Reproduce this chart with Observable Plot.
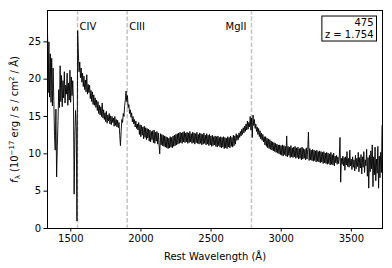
<!DOCTYPE html>
<html>
<head>
<meta charset="utf-8">
<script src="https://cdn.jsdelivr.net/npm/d3@7"></script>
<script src="https://cdn.jsdelivr.net/npm/@observablehq/plot@0.6"></script>
<style>
html,body{margin:0;padding:0;background:#fff;}
</style>
</head>
<body>
<div id="chart"></div>
<script>
// Spectrum: rest wavelength start/step (Å) and flux values (1e-17 erg/s/cm^2/Å)
const waveStart = 1334;
const waveStep = 5;
const flux = [
  26.8, 18.2, 25.0, 17.6, 23.4, 16.9, 22.8, 16.4, 21.5, 17.2,
  12.5, 10.5, 16.0, 6.9, 11.0, 14.5, 18.6, 16.2, 21.8, 17.0,
  20.5, 16.3, 19.8, 17.5, 21.0, 16.8, 19.2, 18.0, 20.8, 16.5,
  19.5, 17.2, 21.2, 16.9, 20.3, 17.8, 19.8, 17.0, 4.6, 12.5,
  15.8, 13.5, 1.0, 26.5, 23.5, 21.0, 22.3, 20.2, 21.5, 19.6,
  20.8, 19.0, 20.4, 18.6, 19.9, 18.3, 20.6, 18.0, 19.3, 18.2,
  19.2, 17.4, 18.5, 17.0, 18.3, 16.6, 17.9, 16.5, 17.5, 16.2,
  17.2, 15.8, 17.0, 15.4, 16.5, 15.2, 16.3, 15.0, 16.8, 14.8,
  15.9, 14.6, 15.5, 14.3, 15.7, 14.1, 15.2, 14.4, 15.4, 14.0,
  15.1, 13.9, 15.0, 14.2, 14.8, 13.7, 15.0, 13.8, 14.6, 13.6,
  14.5, 13.5, 14.2, 12.5, 11.1, 13.0, 14.6, 14.2, 15.4, 15.0,
  16.5, 17.2, 18.4, 17.0, 17.8, 16.2, 16.6, 15.4, 15.9, 14.9,
  15.5, 14.3, 15.0, 14.0, 14.6, 13.6, 14.4, 13.4, 14.0, 13.2,
  14.2, 12.6, 13.9, 12.3, 13.8, 12.5, 13.6, 12.0, 13.7, 12.2,
  13.5, 11.9, 13.4, 12.1, 13.3, 11.7, 13.2, 11.6, 13.0, 11.9,
  13.1, 11.5, 13.2, 11.4, 12.9, 11.7, 13.0, 11.3, 12.8, 11.2,
  10.0, 12.7, 11.2, 12.6, 11.1, 12.5, 11.0, 12.4, 10.9, 12.3,
  10.8, 12.2, 10.7, 12.1, 10.8, 12.3, 10.9, 12.2, 10.8, 12.4,
  11.0, 12.5, 11.1, 12.6, 11.2, 12.7, 11.3, 12.8, 11.4, 12.9,
  11.5, 12.8, 11.4, 12.9, 11.6, 13.0, 11.5, 12.8, 11.6, 12.9,
  11.4, 12.8, 11.5, 13.0, 11.6, 12.7, 11.4, 12.9, 11.5, 12.8,
  11.3, 12.7, 11.5, 12.9, 11.4, 12.6, 11.3, 12.8, 11.4, 12.7,
  11.2, 12.6, 11.3, 12.8, 11.4, 12.5, 11.2, 12.7, 11.3, 12.5,
  11.1, 12.6, 11.2, 12.4, 11.0, 12.5, 11.1, 12.3, 11.2, 12.4,
  11.0, 12.3, 10.9, 12.4, 11.1, 12.2, 10.9, 12.3, 10.8, 12.2,
  10.9, 12.3, 10.7, 12.2, 10.8, 12.1, 10.7, 12.3, 10.9, 12.2,
  10.8, 12.4, 11.0, 12.2, 10.9, 12.5, 11.1, 12.4, 11.3, 12.7,
  11.8, 12.5, 11.9, 12.8, 12.2, 13.0, 12.4, 13.3, 12.6, 13.5,
  12.8, 13.7, 13.0, 14.0, 13.2, 14.4, 13.3, 14.2, 13.6, 15.0,
  13.2, 14.8, 12.2, 15.2, 13.8, 14.6, 13.4, 14.0, 13.0, 13.6,
  12.6, 13.4, 12.3, 13.1, 12.0, 12.8, 11.8, 12.6, 11.6, 12.3,
  11.2, 12.3, 11.0, 12.1, 10.8, 12.0, 10.7, 11.9, 10.6, 11.7,
  10.5, 11.6, 10.4, 11.5, 10.3, 11.4, 10.2, 11.3, 10.1, 11.2,
  10.0, 11.2, 9.9, 11.1, 9.8, 11.2, 9.7, 11.1, 9.9, 11.0,
  9.7, 12.4, 9.6, 11.0, 9.8, 10.9, 9.5, 11.1, 9.6, 10.8,
  9.5, 10.9, 9.6, 11.0, 9.4, 10.8, 9.5, 10.9, 9.3, 10.7,
  9.4, 10.8, 9.2, 10.9, 9.3, 10.7, 9.4, 10.6, 9.2, 10.8,
  9.3, 10.6, 12.9, 9.1, 10.7, 9.2, 10.5, 9.1, 10.6, 9.0,
  10.5, 9.1, 10.4, 8.9, 10.5, 9.0, 10.3, 8.9, 10.4, 8.8,
  10.3, 8.9, 10.2, 8.7, 10.3, 8.8, 10.1, 8.7, 10.2, 8.6,
  10.1, 8.7, 10.0, 8.5, 10.2, 8.6, 9.9, 8.5, 10.1, 8.4,
  9.7, 8.8, 9.8, 8.6, 9.6, 8.7, 9.5, 12.2, 6.2, 9.4,
  8.6, 9.7, 8.4, 9.5, 7.8, 9.6, 8.5, 10.3, 8.3, 9.4,
  8.2, 10.5, 8.4, 9.3, 7.9, 9.6, 8.2, 9.2, 7.7, 9.8,
  8.0, 9.4, 8.3, 10.2, 7.6, 9.5, 8.1, 9.9, 7.3, 9.6,
  8.2, 10.3, 7.5, 9.2, 8.4, 10.6, 7.0, 9.5, 5.4, 9.8,
  7.6, 10.4, 8.0, 11.2, 5.6, 9.6, 7.2, 10.9, 6.4, 9.3,
  7.4, 11.0, 5.4, 9.7, 6.8, 10.2, 7.5, 13.8
];
// Emission lines
const lineNames = ["CIV", "CIII", "MgII"];
const lineWaves = [1548, 1902, 2788];
const lineLabelSide = ["right", "right", "left"];
// Axes
const xTicks = [1500, 2000, 2500, 3000, 3500];
const yTicks = [0, 5, 10, 15, 20, 25];
const xDomain = [1334, 3722];
const yDomain = [0, 29.2];
// Annotation box
const objectId = "475";
const redshift = "z = 1.754";

const spectrum = flux.map((f, i) => ({wave: waveStart + i * waveStep, flux: f}));
const lines = lineNames.map((n, i) => ({name: n, wave: lineWaves[i], side: lineLabelSide[i]}));

const plot = Plot.plot({
  width: 392,
  height: 268,
  marginLeft: 47,
  marginRight: 10,
  marginTop: 10,
  marginBottom: 40,
  style: {fontFamily: "DejaVu Sans", fontSize: "10px", color: "black", background: "white"},
  x: {domain: xDomain},
  y: {domain: yDomain},
  marks: [
    Plot.ruleX(lines, {x: "wave", stroke: "#c4c4c4", strokeWidth: 1.5, strokeDasharray: "4.5,2"}),
    Plot.lineY(spectrum, {x: "wave", y: "flux", stroke: "black", strokeWidth: 0.9, clip: true}),
    Plot.text(lines.filter(d => d.side === "right"), {x: "wave", text: "name", frameAnchor: "top", textAnchor: "start", dx: 2, dy: 12, fontSize: 10}),
    Plot.text(lines.filter(d => d.side === "left"), {x: "wave", text: "name", frameAnchor: "top", textAnchor: "end", dx: -5, dy: 12, fontSize: 10}),
    Plot.frame({stroke: "black", strokeWidth: 1}),
    Plot.axisX({ticks: xTicks, tickSize: 3.5, tickPadding: 3, tickFormat: d3.format("d"), label: "Rest Wavelength (Å)", labelAnchor: "center", labelOffset: 31, labelArrow: "none"}),
    Plot.axisY({ticks: yTicks, tickSize: 3.5, tickPadding: 3, tickFormat: d3.format("d"), label: null}),
    Plot.text([objectId + "\n" + redshift], {frameAnchor: "top-right", textAnchor: "end", lineAnchor: "top", dx: -9, dy: 7, lineHeight: 1.2, fontSize: 10, className: "idbox"}),
    Plot.text(["ylabel"], {frameAnchor: "left", textAnchor: "middle", rotate: -90, dx: -33, fontSize: 10, className: "ylab"})
  ]
});
document.getElementById("chart").appendChild(plot);

// Y-axis label with italic/sub/superscripts
const yl = d3.select(plot).select("g.ylab text");
yl.text(null);
yl.append("tspan").attr("font-style", "italic").text("f");
yl.append("tspan").attr("font-size", 7).attr("dy", 2.5).text("λ");
yl.append("tspan").attr("dy", -2.5).text(" (10");
yl.append("tspan").attr("font-size", 7).attr("dy", -4).text("−17");
yl.append("tspan").attr("dy", 4).text(" erg / s / cm");
yl.append("tspan").attr("font-size", 7).attr("dy", -4).text("2");
yl.append("tspan").attr("dy", 4).text(" / Å)");

// Box around id/redshift annotation
const g = d3.select(plot).select("g.idbox");
const bb = g.node().getBBox();
g.insert("rect", ":first-child")
  .attr("x", bb.x - 3).attr("y", bb.y - 1)
  .attr("width", bb.width + 6).attr("height", bb.height + 2)
  .attr("fill", "white").attr("stroke", "black").attr("stroke-width", 1);
</script>
</body>
</html>
